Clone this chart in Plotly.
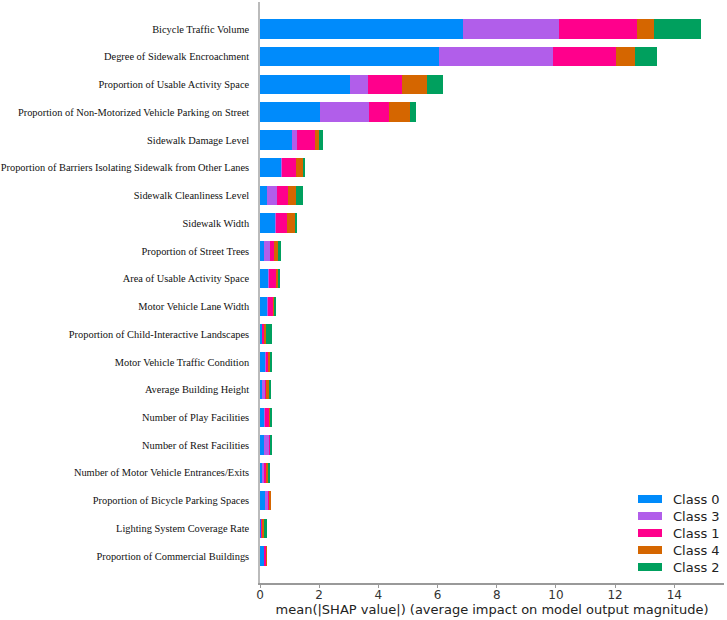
import plotly.graph_objects as go

features = [
    "Bicycle Traffic Volume",
    "Degree of Sidewalk Encroachment",
    "Proportion of Usable Activity Space",
    "Proportion of Non-Motorized Vehicle Parking on Street",
    "Sidewalk Damage Level",
    "Proportion of Barriers Isolating Sidewalk from Other Lanes",
    "Sidewalk Cleanliness Level",
    "Sidewalk Width",
    "Proportion of Street Trees",
    "Area of Usable Activity Space",
    "Motor Vehicle Lane Width",
    "Proportion of Child-Interactive Landscapes",
    "Motor Vehicle Traffic Condition",
    "Average Building Height",
    "Number of Play Facilities",
    "Number of Rest Facilities",
    "Number of Motor Vehicle Entrances/Exits",
    "Proportion of Bicycle Parking Spaces",
    "Lighting System Coverage Rate",
    "Proportion of Commercial Buildings",
]

class_0 = [6.87, 6.06, 3.03, 2.04, 1.09, 0.74, 0.25, 0.53, 0.13, 0.30, 0.27, 0.07, 0.17, 0.06, 0.15, 0.14, 0.07, 0.17, 0.04, 0.14]
class_3 = [3.25, 3.83, 0.62, 1.63, 0.17, 0.01, 0.34, 0.01, 0.22, 0.01, 0.01, 0.03, 0.03, 0.10, 0.02, 0.18, 0.05, 0.13, 0.01, 0.01]
class_1 = [2.63, 2.13, 1.14, 0.70, 0.59, 0.47, 0.37, 0.38, 0.11, 0.23, 0.17, 0.05, 0.09, 0.07, 0.12, 0.03, 0.07, 0.03, 0.04, 0.07]
class_4 = [0.55, 0.65, 0.84, 0.70, 0.13, 0.22, 0.27, 0.25, 0.14, 0.09, 0.05, 0.04, 0.06, 0.06, 0.07, 0.01, 0.07, 0.01, 0.04, 0.01]
class_2 = [1.61, 0.76, 0.54, 0.21, 0.15, 0.09, 0.22, 0.09, 0.11, 0.03, 0.01, 0.23, 0.06, 0.08, 0.02, 0.02, 0.08, 0.00, 0.10, 0.00]

series = [
    ("Class 0", class_0, "#008bfb"),
    ("Class 3", class_3, "#b15eea"),
    ("Class 1", class_1, "#ff008c"),
    ("Class 4", class_4, "#d56600"),
    ("Class 2", class_2, "#00a05e"),
]

x_title = "mean(|SHAP value|) (average impact on model output magnitude)"
x_ticks = [0, 2, 4, 6, 8, 10, 12, 14]

fig = go.Figure()
for name, vals, color in series:
    fig.add_trace(go.Bar(
        y=features, x=vals, name=name, orientation="h",
        marker=dict(color=color, line=dict(width=0)),
        width=0.7, showlegend=False,
    ))

# plot area geometry (px) for custom legend
L, R, T, B = 260, 724, 2, 583
W, H = R - L, B - T

def px_x(p):
    return (p - L) / W

def px_y(p):
    return (B - p) / H

shapes = []
annotations = []
for i, (name, vals, color) in enumerate(series):
    cy = 499 + i * 17
    shapes.append(dict(type="rect", xref="paper", yref="paper",
                       x0=px_x(638), x1=px_x(662), y0=px_y(cy + 4), y1=px_y(cy - 4),
                       fillcolor=color, line=dict(width=0)))
    annotations.append(dict(xref="paper", yref="paper", x=px_x(671), y=px_y(cy),
                            text=name, showarrow=False, xanchor="left", yanchor="middle",
                            font=dict(family="DejaVu Sans", size=13, color="#222")))

fig.update_layout(
    barmode="stack",
    width=727, height=620,
    margin=dict(l=L, r=727 - R, t=T, b=620 - B),
    plot_bgcolor="white", paper_bgcolor="white",
    shapes=shapes, annotations=annotations,
    xaxis=dict(
        range=[0, 15.68], tickvals=x_ticks, showgrid=False, zeroline=False,
        automargin=False,
        showline=True, linecolor="#999999", linewidth=1.5,
        ticks="outside", ticklen=3, tickcolor="#999999",
        ticklabelstandoff=-3,
        tickfont=dict(family="DejaVu Sans", size=12, color="#333333"),
        title=dict(text=x_title, standoff=1,
                   font=dict(family="DejaVu Sans", size=13, color="#222222")),
    ),
    yaxis=dict(
        range=[len(features) - 0.03, -0.97], showgrid=False, zeroline=False,
        automargin=False,
        showline=True, linecolor="#bbbbbb", linewidth=1.5, ticks="",
        ticklabelstandoff=7,
        tickfont=dict(family="Liberation Serif", size=10.4, color="#111111"),
    ),
)

fig.write_html("out.html")
